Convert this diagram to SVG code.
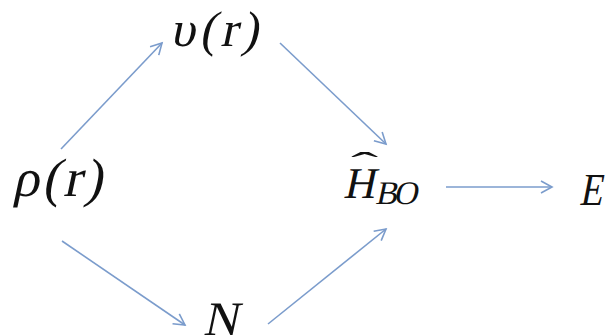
<svg xmlns="http://www.w3.org/2000/svg" width="609" height="336" viewBox="0 0 609 336">
<style>
.t{font-family:'Liberation Serif','Times New Roman',serif;fill:#111;}
.c line{stroke:#7b9ccc;stroke-width:1.6;fill:none;marker-end:url(#ah);}
</style>
<defs>
<marker id="ah" markerUnits="userSpaceOnUse" markerWidth="16" markerHeight="16" refX="12" refY="7" orient="auto" viewBox="0 0 16 14">
<path d="M1,1 L12,7 L1,13" fill="none" stroke="#7b9ccc" stroke-width="1.6"/>
</marker>
</defs>
<rect width="609" height="336" fill="#fff"/>
<g id="rho"><text class="t" transform="translate(12 196) skewX(-12)" font-size="54" textLength="90" lengthAdjust="spacing">ρ(r)</text></g>
<g id="upsilon"><text class="t" transform="translate(170 46) skewX(-12)" font-size="50" textLength="88" lengthAdjust="spacing">υ(r)</text></g>
<g id="HBO">
<text class="t" transform="translate(343 198) skewX(-12)" font-size="44">H</text>
<text class="t" transform="translate(351 176) scale(2.4 1)" font-size="34">ˆ</text>
<text class="t" transform="translate(375 204) skewX(-12)" font-size="33" textLength="42" lengthAdjust="spacing">BO</text>
</g>
<g id="E"><text class="t" transform="translate(579 205) skewX(-11)" font-size="46" textLength="23" lengthAdjust="spacingAndGlyphs">E</text></g>
<g id="N"><text class="t" transform="translate(203 335) skewX(-12)" font-size="48">N</text></g>
<g class="c" id="connectors">
<line x1="61" y1="149" x2="162" y2="43"/>
<line x1="280" y1="43" x2="386" y2="144"/>
<line x1="62" y1="241" x2="185" y2="325"/>
<line x1="268" y1="324" x2="386" y2="229"/>
<line x1="446" y1="187" x2="552" y2="187"/>
</g>
</svg>
